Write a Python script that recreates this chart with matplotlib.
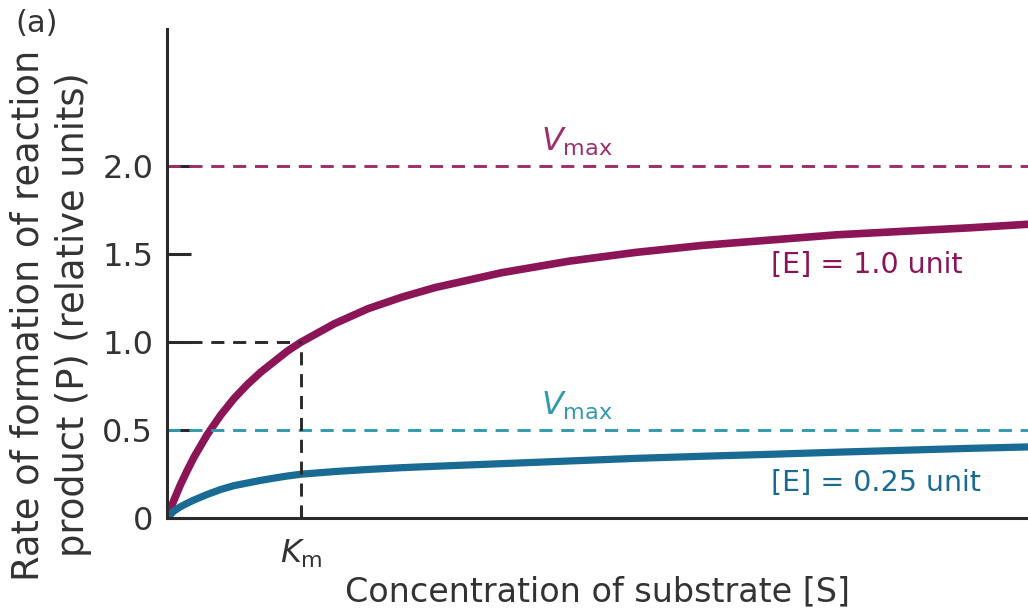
import matplotlib
matplotlib.use('Agg')
import matplotlib.pyplot as plt

# substrate concentration in units of Km
s_vals = [0, 0.05, 0.1, 0.15, 0.2, 0.3, 0.4, 0.5, 0.6, 0.7, 0.8, 0.9, 1.0,
          1.25, 1.5, 1.75, 2.0, 2.5, 3.0, 3.5, 4.0, 4.5, 5.0, 5.5, 6.0, 6.43]
v_e1 = [0, 0.10, 0.19, 0.27, 0.345, 0.475, 0.585, 0.68, 0.76, 0.83, 0.89, 0.95, 1.0,
        1.105, 1.19, 1.255, 1.31, 1.395, 1.46, 1.51, 1.55, 1.58, 1.61, 1.63, 1.65, 1.67]
v_e025 = [0, 0.04, 0.065, 0.085, 0.103, 0.135, 0.163, 0.185, 0.20, 0.215, 0.228, 0.24, 0.25,
          0.265, 0.277, 0.287, 0.295, 0.31, 0.325, 0.34, 0.352, 0.363, 0.375, 0.386, 0.397, 0.405]
vmax_e1 = 2.0
vmax_e025 = 0.5
km = 1.0
yticks = [0, 0.5, 1.0, 1.5, 2.0]
ytick_labels = ['0', '0.5', '1.0', '1.5', '2.0']

MAG = '#8c1558'
MAG_D = '#9e2f6a'
BLU = '#1a6b94'
BLU_D = '#3399ad'
INK = '#333333'

plt.rcParams['font.family'] = ['DejaVu Sans']
plt.rcParams['mathtext.fontset'] = 'dejavusans'

fig = plt.figure(figsize=(10.28, 6.14), dpi=100)
ax = fig.add_axes([0.1625, 0.156, 0.8375, 0.797])
ax.set_xlim(0, 6.43)
ax.set_ylim(0, 2.78)

ax.plot(s_vals, v_e1, color=MAG, lw=5.5, solid_capstyle='round', solid_joinstyle='round')
ax.plot(s_vals, v_e025, color=BLU, lw=5.2, solid_capstyle='round', solid_joinstyle='round')

dash = (0, (4.5, 3))
ax.axhline(vmax_e1, color=MAG_D, lw=2.1, linestyle=dash)
ax.axhline(vmax_e025, color=BLU_D, lw=2.1, linestyle=dash)
ax.plot([0, km], [1.0, 1.0], color='#2a2a2a', lw=2.1, linestyle=dash)
ax.plot([km, km], [0, 1.0], color='#2a2a2a', lw=2.1, linestyle=dash)

ax.text(2.79, 2.09, r'$V_{\mathrm{max}}$', color=MAG_D, fontsize=23, ha='left', va='baseline')
ax.text(2.79, 0.59, r'$V_{\mathrm{max}}$', color=BLU_D, fontsize=23, ha='left', va='baseline')
ax.text(4.51, 1.44, '[E] = 1.0 unit', color=MAG, fontsize=20.5, ha='left', va='center')
ax.text(4.51, 0.20, '[E] = 0.25 unit', color=BLU, fontsize=20.5, ha='left', va='center')

for side in ['top', 'right']:
    ax.spines[side].set_visible(False)
for side in ['left', 'bottom']:
    ax.spines[side].set_linewidth(2.2)
    ax.spines[side].set_color('#2a2a2a')

ax.set_yticks(yticks)
ax.set_yticklabels(ytick_labels, fontsize=23, color=INK)
ax.tick_params(axis='y', direction='in', length=17, width=2.2, color='#2a2a2a', pad=10)
ax.set_xticks([km])
ax.set_xticklabels([r'$K_{\mathrm{m}}$'], fontsize=23, color=INK)
ax.tick_params(axis='x', direction='in', length=8, width=2.2, color='#2a2a2a', pad=14)

ax.set_xlabel('Concentration of substrate [S]', fontsize=24, color=INK, labelpad=4)
fig.text(0.049, 0.487, 'Rate of formation of reaction\nproduct (P) (relative units)',
         fontsize=26.5, color=INK, rotation=90, ha='center', va='center',
         multialignment='center', linespacing=1.3)

fig.text(0.015, 0.985, '(a)', fontsize=22, color=INK, ha='left', va='top')

fig.savefig('out.png', dpi=100)
